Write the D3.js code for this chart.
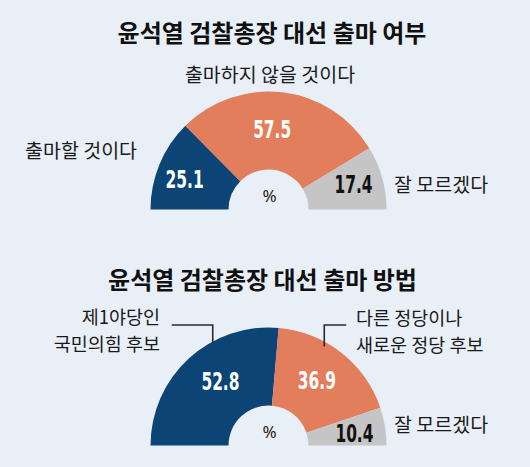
<!DOCTYPE html>
<html>
<head>
<meta charset="utf-8">
<script src="https://cdn.jsdelivr.net/npm/d3@7/dist/d3.min.js"></script>
<style>
  html, body { margin: 0; padding: 0; background: #e9eff6; }
  svg { display: block; }
</style>
</head>
<body>
<svg id="chart" width="530" height="467"></svg>
<script>
// ---- data ----
const titles = ["윤석열 검찰총장 대선 출마 여부", "윤석열 검찰총장 대선 출마 방법"];
const categories1 = ["출마할 것이다", "출마하지 않을 것이다", "잘 모르겠다"];
const values1 = [25.1, 57.5, 17.4];
const categories2 = [["제1야당인", "국민의힘 후보"], ["다른 정당이나", "새로운 정당 후보"], ["잘 모르겠다"]];
const values2 = [52.8, 36.9, 10.4];
const unitLabel = "%";

// ---- style / layout ----
const colors = ["#0b4475", "#e27e5b", "#c5c5c5"];
const valueColors = ["#ffffff", "#ffffff", "#111111"];
const bg = "#e9eff6";
const krFont = "'Noto Sans CJK KR', 'Noto Sans', sans-serif";
const numFont = "'DejaVu Sans Condensed', 'DejaVu Sans', sans-serif";
const labelSize = 19.5;

const svg = d3.select("#chart");
svg.append("rect").attr("width", 530).attr("height", 467).attr("fill", bg);

const cx = 268.5, rOuter = 118, rInner = 40;

const pie = d3.pie().sort(null).value(d => d)
  .startAngle(-Math.PI / 2).endAngle(Math.PI / 2);
const arc = d3.arc().innerRadius(rInner).outerRadius(rOuter);
const labelArc = d3.arc().innerRadius(80).outerRadius(80);

function drawDonut(cy, values, nudges) {
  const g = svg.append("g").attr("transform", `translate(${cx},${cy})`);
  const arcs = pie(values);
  g.selectAll("path.slice").data(arcs).join("path")
    .attr("class", "slice")
    .attr("d", arc)
    .attr("fill", (d, i) => colors[i]);
  g.selectAll("text.val").data(arcs).join("text")
    .attr("class", "val")
    .attr("transform", (d, i) => {
      const c = labelArc.centroid(d);
      return `translate(${c[0] + nudges[i][0]},${c[1] + nudges[i][1]}) scale(0.7,1)`;
    })
    .attr("text-anchor", "middle")
    .attr("font-family", numFont)
    .attr("font-weight", "bold")
    .attr("font-size", 24.5)
    .attr("fill", (d, i) => valueColors[i])
    .text(d => d.data.toFixed(1));
  g.append("text")
    .attr("x", 1).attr("y", -8)
    .attr("text-anchor", "middle")
    .attr("font-family", "'Noto Sans', sans-serif")
    .attr("font-size", 17)
    .attr("fill", "#222")
    .text(unitLabel);
  return { g, arcs };
}

function label(x, y, anchor, txt, size) {
  svg.append("text")
    .attr("x", x).attr("y", y)
    .attr("text-anchor", anchor)
    .attr("font-family", krFont)
    .attr("font-size", size || labelSize)
    .attr("fill", "#1a1a1a")
    .text(txt);
}

// ---- titles ----
svg.append("text").attr("x", 272).attr("y", 42).attr("text-anchor", "middle")
  .attr("font-family", krFont).attr("font-weight", "bold").attr("font-size", 24)
  .attr("fill", "#111").text(titles[0]);
svg.append("text").attr("x", 262.5).attr("y", 289).attr("text-anchor", "middle")
  .attr("font-family", krFont).attr("font-weight", "bold").attr("font-size", 24)
  .attr("fill", "#111").text(titles[1]);

// ---- chart 1 ----
const cy1 = 209.5;
drawDonut(cy1, values1, [[-10, 9], [-6, 8], [8, 5]]);
label(25, 158, "start", categories1[0]);
label(270, 82, "middle", categories1[1]);
label(394, 192, "start", categories1[2]);

// ---- chart 2 ----
const cy2 = 445.5;
drawDonut(cy2, values2, [[6, 3], [-1, 6], [7, 9]]);
const twoLine = 18.5;
label(160, 324, "end", categories2[0][0], twoLine);
label(160, 351, "end", categories2[0][1], twoLine);
label(356, 324.5, "start", categories2[1][0], twoLine);
label(356, 351.5, "start", categories2[1][1], twoLine);
label(394, 432, "start", categories2[2][0]);

// leader lines
const leaderAngle = 28.2 * Math.PI / 180;
const elbowY = 325;
[[-1, 41], [1, 22]].forEach(([side, hLen]) => {
  const px = cx + side * rOuter * Math.sin(leaderAngle);
  const py = cy2 - rOuter * Math.cos(leaderAngle) + (side < 0 ? 1.5 : 5);
  svg.append("path")
    .attr("d", d3.line()([[px, py], [px, elbowY], [px + side * hLen, elbowY]]))
    .attr("fill", "none")
    .attr("stroke", "#2a2a2a")
    .attr("stroke-width", 1.6);
});
</script>
</body>
</html>
